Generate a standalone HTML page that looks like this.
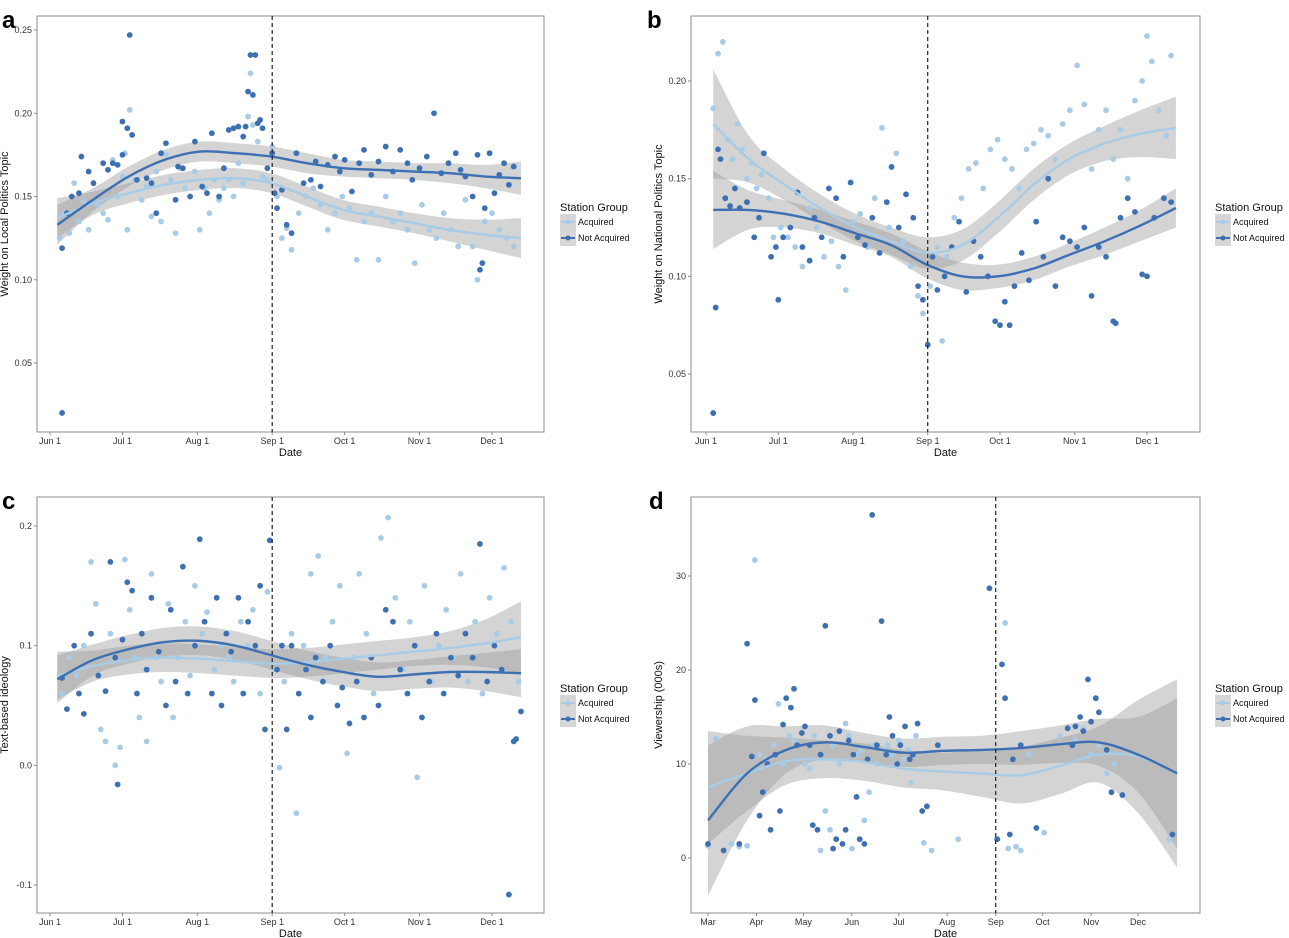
<!DOCTYPE html>
<html><head><meta charset="utf-8">
<style>
html,body{margin:0;padding:0;background:#fff;}
svg{display:block;font-family:"Liberation Sans",sans-serif;}
</style></head>
<body>
<svg id="chart" width="1289" height="938" viewBox="0 0 1289 938" xmlns="http://www.w3.org/2000/svg"></svg>
<script>
// ---------- DATA ----------
const aDark=[[5,0.02],[5,0.119],[7,0.14],[9,0.15],[12,0.152],[13,0.174],[16,0.165],[18,0.158],[22,0.17],[24,0.166],[26,0.17],[28,0.169],[30,0.175],[30,0.195],[32,0.191],[33,0.247],[34,0.187],[36,0.16],[40,0.161],[42,0.158],[44,0.14],[46,0.176],[48,0.182],[52,0.148],[53,0.168],[55,0.167],[58,0.15],[60,0.183],[63,0.156],[65,0.152],[67,0.188],[70,0.15],[72,0.167],[74,0.19],[76,0.191],[78,0.192],[80,0.186],[81,0.192],[82,0.213],[83,0.235],[84,0.211],[85,0.235],[86,0.194],[87,0.196],[88,0.191],[90,0.167],[92,0.176],[93,0.152],[94,0.143],[96,0.154],[98,0.133],[100,0.128],[102,0.176],[105,0.158],[108,0.16],[110,0.171],[112,0.156],[115,0.169],[118,0.174],[120,0.165],[122,0.172],[125,0.153],[128,0.17],[130,0.178],[133,0.163],[136,0.171],[139,0.18],[142,0.165],[145,0.178],[148,0.17],[150,0.16],[153,0.167],[156,0.174],[159,0.2],[162,0.164],[165,0.17],[168,0.176],[170,0.166],[172,0.162],[175,0.15],[177,0.175],[180,0.143],[182,0.176],[184,0.152],[186,0.163],[188,0.17],[190,0.157],[192,0.168],[178,0.106],[179,0.11]];
const aLight=[[4,0.125],[6,0.14],[8,0.128],[10,0.158],[12,0.135],[14,0.147],[16,0.13],[20,0.145],[22,0.14],[24,0.136],[26,0.172],[28,0.15],[30,0.162],[31,0.176],[32,0.13],[33,0.202],[35,0.16],[38,0.148],[40,0.156],[42,0.138],[44,0.165],[46,0.135],[48,0.175],[50,0.16],[52,0.128],[54,0.167],[56,0.155],[58,0.15],[60,0.165],[62,0.13],[64,0.155],[66,0.14],[68,0.16],[70,0.148],[72,0.155],[74,0.16],[76,0.15],[78,0.17],[80,0.158],[82,0.198],[83,0.224],[84,0.193],[86,0.183],[88,0.162],[90,0.16],[92,0.18],[94,0.15],[96,0.125],[98,0.131],[100,0.118],[103,0.14],[106,0.15],[109,0.155],[112,0.145],[115,0.13],[118,0.14],[121,0.15],[124,0.143],[127,0.112],[130,0.135],[133,0.14],[136,0.112],[139,0.15],[142,0.135],[145,0.14],[148,0.13],[151,0.11],[154,0.145],[157,0.13],[160,0.125],[163,0.14],[166,0.13],[169,0.12],[172,0.148],[175,0.12],[177,0.1],[180,0.135],[183,0.14],[186,0.13],[189,0.125],[192,0.12]];
const aFitDark=[0.133,0.148,0.162,0.172,0.177,0.176,0.174,0.17,0.167,0.166,0.165,0.164,0.162,0.161];
const aFitLight=[0.137,0.146,0.152,0.157,0.16,0.161,0.158,0.15,0.142,0.138,0.134,0.13,0.127,0.125];
const aSeDark=[0.012,0.007,0.006,0.006,0.006,0.006,0.006,0.006,0.005,0.005,0.005,0.006,0.007,0.01];
const aSeLight=[0.012,0.007,0.006,0.006,0.006,0.006,0.006,0.006,0.006,0.006,0.006,0.007,0.009,0.012];
const bDark=[[3,0.03],[4,0.084],[5,0.165],[6,0.16],[8,0.14],[10,0.136],[12,0.145],[14,0.135],[17,0.138],[20,0.12],[22,0.13],[24,0.163],[27,0.11],[29,0.115],[30,0.088],[32,0.12],[35,0.125],[38,0.143],[40,0.115],[43,0.108],[45,0.13],[48,0.12],[51,0.145],[54,0.14],[57,0.11],[60,0.148],[63,0.12],[66,0.116],[69,0.13],[72,0.112],[75,0.138],[77,0.156],[80,0.125],[83,0.142],[86,0.13],[88,0.095],[90,0.088],[92,0.065],[94,0.11],[96,0.093],[99,0.1],[102,0.115],[105,0.128],[108,0.092],[111,0.118],[114,0.11],[117,0.1],[120,0.077],[122,0.075],[124,0.087],[126,0.075],[128,0.095],[131,0.112],[134,0.098],[137,0.128],[140,0.11],[142,0.15],[145,0.095],[148,0.12],[151,0.118],[154,0.115],[157,0.125],[160,0.09],[163,0.115],[166,0.11],[169,0.077],[170,0.076],[172,0.13],[175,0.14],[178,0.133],[181,0.101],[183,0.1],[186,0.13],[190,0.14],[193,0.138]];
const bLight=[[3,0.186],[5,0.214],[7,0.22],[9,0.17],[11,0.16],[13,0.178],[15,0.165],[17,0.15],[19,0.158],[21,0.145],[23,0.152],[26,0.14],[28,0.12],[31,0.125],[34,0.12],[37,0.115],[40,0.105],[43,0.135],[46,0.125],[49,0.11],[52,0.118],[55,0.105],[58,0.093],[61,0.128],[64,0.132],[67,0.115],[70,0.14],[73,0.176],[76,0.125],[79,0.163],[82,0.118],[85,0.105],[88,0.09],[90,0.081],[93,0.095],[96,0.115],[98,0.067],[100,0.11],[103,0.13],[106,0.14],[109,0.155],[112,0.158],[115,0.145],[118,0.165],[121,0.17],[124,0.16],[127,0.155],[130,0.145],[133,0.165],[136,0.168],[139,0.175],[142,0.172],[145,0.16],[148,0.178],[151,0.185],[154,0.208],[157,0.188],[160,0.155],[163,0.175],[166,0.185],[169,0.16],[172,0.175],[175,0.15],[178,0.19],[181,0.2],[183,0.223],[185,0.21],[188,0.185],[191,0.172],[193,0.213]];
const bFitDark=[0.134,0.134,0.132,0.128,0.122,0.116,0.106,0.1,0.1,0.104,0.111,0.118,0.126,0.135];
const bFitLight=[0.178,0.16,0.147,0.135,0.125,0.118,0.112,0.116,0.13,0.147,0.16,0.168,0.173,0.176];
const bSeDark=[0.02,0.01,0.007,0.006,0.006,0.006,0.007,0.007,0.006,0.006,0.006,0.007,0.008,0.01];
const bSeLight=[0.028,0.012,0.008,0.007,0.007,0.007,0.008,0.008,0.008,0.008,0.008,0.009,0.012,0.016];
const cDark=[[5,0.073],[7,0.047],[10,0.1],[12,0.06],[14,0.043],[17,0.11],[20,0.075],[23,0.062],[25,0.17],[27,0.09],[28,-0.016],[30,0.105],[32,0.153],[34,0.146],[36,0.06],[38,0.11],[40,0.08],[42,0.14],[45,0.095],[48,0.05],[50,0.13],[52,0.07],[55,0.166],[57,0.06],[60,0.1],[62,0.189],[64,0.12],[67,0.06],[69,0.14],[71,0.05],[73,0.11],[75,0.095],[78,0.14],[80,0.06],[82,0.12],[85,0.1],[87,0.15],[89,0.03],[91,0.188],[94,0.08],[96,0.1],[98,0.03],[100,0.1],[103,0.06],[106,0.08],[108,0.04],[110,0.09],[113,0.07],[116,0.1],[119,0.05],[121,0.065],[124,0.035],[127,0.07],[130,0.04],[133,0.09],[136,0.05],[139,0.13],[142,0.12],[145,0.08],[148,0.06],[151,0.1],[154,0.04],[157,0.07],[160,0.11],[163,0.06],[166,0.09],[169,0.075],[172,0.11],[175,0.09],[178,0.185],[181,0.07],[184,0.1],[187,0.08],[190,-0.108],[192,0.02],[193,0.022],[195,0.045]];
const cLight=[[5,0.06],[8,0.09],[11,0.075],[14,0.1],[17,0.17],[19,0.135],[21,0.03],[23,0.02],[25,0.11],[27,0.0],[29,0.015],[31,0.172],[33,0.13],[35,0.09],[37,0.04],[40,0.02],[42,0.16],[44,0.09],[46,0.07],[49,0.135],[51,0.04],[53,0.09],[56,0.12],[58,0.075],[60,0.15],[63,0.11],[65,0.128],[68,0.08],[71,0.1],[74,0.09],[76,0.07],[79,0.12],[82,0.1],[84,0.13],[87,0.06],[90,0.145],[93,0.08],[95,-0.002],[97,0.07],[100,0.11],[102,-0.04],[105,0.1],[108,0.16],[111,0.175],[114,0.09],[117,0.12],[120,0.15],[123,0.01],[126,0.09],[128,0.16],[131,0.11],[134,0.06],[137,0.19],[140,0.207],[143,0.14],[146,0.08],[149,0.12],[152,-0.01],[155,0.15],[158,0.07],[161,0.1],[164,0.13],[167,0.09],[170,0.16],[173,0.07],[176,0.12],[179,0.06],[182,0.14],[185,0.11],[188,0.165],[191,0.12],[194,0.07]];
const cFitDark=[0.072,0.088,0.097,0.103,0.104,0.1,0.092,0.084,0.078,0.074,0.076,0.078,0.078,0.077];
const cFitLight=[0.075,0.083,0.088,0.09,0.089,0.087,0.085,0.086,0.089,0.092,0.095,0.098,0.102,0.107];
const cSeDark=[0.02,0.013,0.012,0.012,0.012,0.012,0.012,0.012,0.012,0.012,0.012,0.013,0.016,0.02];
const cSeLight=[0.02,0.013,0.012,0.012,0.012,0.012,0.012,0.012,0.012,0.012,0.012,0.014,0.02,0.03];
const dDark=[[0,1.5],[10,0.8],[20,1.5],[25,22.8],[28,10.8],[30,16.8],[33,4.5],[35,7],[38,10],[40,3],[43,11],[46,5],[48,14.2],[50,17],[53,16],[55,18],[57,12],[60,13.3],[62,14],[65,12],[67,3.5],[70,3],[72,11],[75,24.7],[78,13],[80,1],[82,2],[84,13.5],[86,1.5],[88,3],[90,12.5],[93,11],[95,6.5],[97,2],[100,1.5],[102,10.5],[105,36.5],[108,12],[111,25.2],[114,11],[116,15],[118,13],[121,10],[123,12],[126,14],[129,10.5],[131,11],[134,14.3],[137,5],[140,5.5],[147,12],[180,28.7],[185,2],[188,20.6],[190,17],[193,2.5],[195,10.5],[200,12],[210,3.2],[230,13.8],[233,12],[235,14],[238,15],[240,13.5],[243,19],[245,14.5],[248,17],[250,15.5],[255,11.5],[258,7],[265,6.7],[297,2.5]];
const dLight=[[0,1.3],[5,12.7],[15,1.5],[20,1.2],[25,1.3],[30,31.7],[33,11],[37,10.5],[42,12],[45,16.4],[48,10],[52,13],[55,12.5],[57,12],[62,10],[65,9.5],[68,13],[72,0.8],[75,5],[78,3],[80,12],[84,10],[88,14.3],[90,13],[92,1],[95,11],[98,11.5],[100,4],[103,7],[106,12],[108,10],[112,11.5],[115,12],[118,11],[120,10],[122,12.5],[125,10.5],[128,11.5],[130,8],[133,13],[138,1.6],[143,0.8],[160,2],[190,25],[192,1],[197,1.2],[200,0.8],[205,11],[215,2.7],[225,13],[235,12.5],[240,13.8],[245,11],[250,12],[255,9],[260,10],[295,2]];
const dFitDark=[4,9,11.5,12.3,11.8,11.2,11.4,11.5,11.7,12.1,12.3,11,9];
const dFitLight=[7.5,9,10.3,10.5,10.2,9.5,9.2,9,8.8,9.8,11,10.8,9];
const dSeDark=[8,5,2.5,1.8,1.5,1.5,1.5,1.5,1.8,2,2.5,4,8];
const dSeLight=[6,4,2.5,2,2,2,2,2.5,3,3,3,6,10];
const xTicksJun=["Jun 1","Jul 1","Aug 1","Sep 1","Oct 1","Nov 1","Dec 1"];
const xTickDaysJun=[0,30,61,92,122,153,183];
const xTicksMar=["Mar","Apr","May","Jun","Jul","Aug","Sep","Oct","Nov","Dec"];
const xTickDaysMar=[0,31,61,92,122,153,184,214,245,275];
const aYTicks=[0.05,0.10,0.15,0.20,0.25];
const bYTicks=[0.05,0.10,0.15,0.20];
const cYTicks=[-0.1,0.0,0.1,0.2];
const dYTicks=[0,10,20,30];

// ---------- DRAW ----------
const svg=document.getElementById('chart');
const NS='http://www.w3.org/2000/svg';
const DARK='#3d70b2', LIGHT='#a9cce6';
function mk(tag,attrs,parent){const e=document.createElementNS(NS,tag);for(const k in attrs)e.setAttribute(k,attrs[k]);(parent||svg).appendChild(e);return e;}
function catmull(pts){let d='M'+pts[0][0]+','+pts[0][1];for(let i=0;i<pts.length-1;i++){const p0=pts[Math.max(0,i-1)],p1=pts[i],p2=pts[i+1],p3=pts[Math.min(pts.length-1,i+2)];d+=' C'+(p1[0]+(p2[0]-p0[0])/6)+','+(p1[1]+(p2[1]-p0[1])/6)+' '+(p2[0]-(p3[0]-p1[0])/6)+','+(p2[1]-(p3[1]-p1[1])/6)+' '+p2[0]+','+p2[1];}return d;}

function panel(P){
  const g=mk('g',{});
  
  
  const X=d=>P.x0+(d-P.d0)*(P.x1-P.x0)/(P.d1-P.d0);
  const Y=v=>P.y0+(v-P.v0)*(P.y1-P.y0)/(P.v1-P.v0);
  const bg=mk('rect',{x:P.L,y:P.T,width:P.R-P.L,height:P.B-P.T,fill:'#fff',stroke:'#8c8c8c','stroke-width':1},g);
  
  const knot=i=>P.f0+i*(P.f1-P.f0)/(P.fitD.length-1);
  [[P.fitL,P.seL,'light'],[P.fitD,P.seD,'dark']].forEach(([fit,se,nm])=>{
    const up=fit.map((v,i)=>[X(knot(i)),Y(v+se[i])]);
    const lo=fit.map((v,i)=>[X(knot(i)),Y(v-se[i])]).reverse();
    const d=catmull(up)+' L'+lo[0][0]+','+lo[0][1]+catmull(lo).replace(/^M[^ ]+/,'')+' Z';
    const b=mk('path',{d:d,fill:'#999','fill-opacity':0.42,stroke:'none'},g);
    
  });
  P.ptsL.forEach(p=>{const c=mk('circle',{cx:X(p[0]),cy:Y(p[1]),r:2.9,fill:LIGHT},g);
    });
  P.ptsD.forEach(p=>{const c=mk('circle',{cx:X(p[0]),cy:Y(p[1]),r:2.9,fill:DARK},g);
    });
  [[P.fitL,LIGHT,'acquired'],[P.fitD,DARK,'not-acquired']].forEach(([fit,col,nm])=>{
    const l=mk('path',{d:catmull(fit.map((v,i)=>[X(knot(i)),Y(v)])),fill:'none',stroke:col,'stroke-width':2.4},g);
    
  });
  const dl=mk('line',{x1:X(P.cut),x2:X(P.cut),y1:P.T,y2:P.B,stroke:'#222','stroke-width':1.2,'stroke-dasharray':'4,3'},g);
  
  P.xt.forEach((t,i)=>{const x=X(P.xtd[i]);
    mk('line',{x1:x,x2:x,y1:P.B,y2:P.B+3,stroke:'#888'},g);
    const tx=mk('text',{x:x,y:P.B+12,'font-size':9,fill:'#333','text-anchor':'middle'},g);tx.textContent=t;
    });
  P.yt.forEach(v=>{const y=Y(v);
    mk('line',{x1:P.L-3,x2:P.L,y1:y,y2:y,stroke:'#888'},g);
    const tx=mk('text',{x:P.L-5,y:y+3,'font-size':9,fill:'#333','text-anchor':'end'},g);
    tx.textContent=P.fmt(v);
    });
  const xt=mk('text',{x:(P.L+P.R)/2,y:P.B+24,'font-size':11,fill:'#111','text-anchor':'middle'},g);xt.textContent='Date';
  
  const yt=mk('text',{x:0,y:0,'font-size':11,fill:'#111','text-anchor':'middle',transform:'translate('+P.yx+','+(P.T+P.B)/2+') rotate(-90)'},g);yt.textContent=P.ytitle;
  
  const lt=mk('text',{x:P.letterX,y:P.T+12,'font-size':24,'font-weight':'bold',fill:'#000'},g);
  lt.textContent=P.id;
  
  const lg=mk('g',{},g);
  const ly=P.legY;
  const ttl=mk('text',{x:P.lx,y:ly,'font-size':11,fill:'#111'},lg);ttl.textContent='Station Group';
  [['Acquired',LIGHT],['Not Acquired',DARK]].forEach(([nm,col],i)=>{
    const e=mk('g',{},lg);
    const y=ly+3+i*16;
    mk('rect',{x:P.lx,y:y,width:16,height:16,fill:'#d6d6d6'},e);
    mk('line',{x1:P.lx+1,x2:P.lx+15,y1:y+8,y2:y+8,stroke:col,'stroke-width':2},e);
    mk('circle',{cx:P.lx+8,cy:y+8,r:2.5,fill:col},e);
    const t=mk('text',{x:P.lx+18,y:y+11,'font-size':9,fill:'#111'},e);t.textContent=nm;
  });
}
const f2=v=>v.toFixed(2), f1=v=>v.toFixed(1), f0=v=>String(v);
const base={d0:0,d1:183,f0:3,f1:195,cut:92,xt:xTicksJun,xtd:xTickDaysJun};
panel(Object.assign({},base,{id:'a',L:37,R:544,T:16,B:432,x0:50,x1:492,v0:0.25,v1:0.05,y0:30,y1:363,
  ptsD:aDark,ptsL:aLight,fitD:aFitDark,fitL:aFitLight,seD:aSeDark,seL:aSeLight,yt:aYTicks,fmt:f2,
  ytitle:'Weight on Local Politics Topic',yx:8,lx:560,legY:211,letterX:2}));
panel(Object.assign({},base,{id:'b',L:691,R:1200,T:16,B:432,x0:706,x1:1147,v0:0.20,v1:0.05,y0:81,y1:374,
  ptsD:bDark,ptsL:bLight,fitD:bFitDark,fitL:bFitLight,seD:bSeDark,seL:bSeLight,yt:bYTicks,fmt:f2,
  ytitle:'Weight on National Politics Topic',yx:662,lx:1215,legY:211,letterX:647}));
panel(Object.assign({},base,{id:'c',L:37,R:544,T:497,B:913,x0:50,x1:492,v0:0.2,v1:-0.1,y0:526,y1:885,
  ptsD:cDark,ptsL:cLight,fitD:cFitDark,fitL:cFitLight,seD:cSeDark,seL:cSeLight,yt:cYTicks,fmt:f1,
  ytitle:'Text-based ideology',yx:8,lx:560,legY:692,letterX:2}));
panel({id:'d',L:691,R:1200,T:497,B:913,d0:0,d1:275,x0:708,x1:1138,v0:30,v1:0,y0:576,y1:858,f0:0,f1:300,cut:184,
  xt:xTicksMar,xtd:xTickDaysMar,
  ptsD:dDark,ptsL:dLight,fitD:dFitDark,fitL:dFitLight,seD:dSeDark,seL:dSeLight,yt:dYTicks,fmt:f0,
  ytitle:'Viewership (000s)',yx:662,lx:1215,legY:692,letterX:649});
</script>
</body></html>
